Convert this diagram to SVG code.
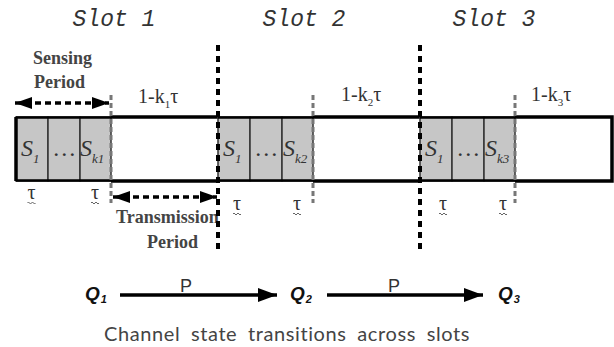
<svg xmlns="http://www.w3.org/2000/svg" width="614" height="347" viewBox="0 0 614 347">
  <style>
    .slot { font-family: "Liberation Mono", monospace; font-style: italic; font-size: 23px; fill: #333; text-anchor: middle; }
    .lbl { font-family: "Liberation Serif", serif; font-weight: bold; font-size: 18px; fill: #444; }
    .frac { font-family: "Liberation Serif", serif; font-size: 20px; fill: #333; }
    .sub { font-size: 11px; }
    .cellS { font-family: "Liberation Serif", serif; font-style: italic; font-size: 24px; fill: #333; }
    .csub { font-size: 13px; }
    .tau { font-family: "Liberation Serif", serif; font-size: 20px; fill: #333; text-anchor: middle; }
    .q { font-family: "Liberation Sans", sans-serif; font-weight: bold; font-style: italic; font-size: 19px; fill: #111; }
    .p { font-family: "Liberation Sans", sans-serif; font-size: 18px; fill: #333; }
    .cap { font-family: "Lato", sans-serif; font-size: 20px; fill: #444; text-anchor: middle; letter-spacing: 0.6px; word-spacing: 5px; }
    .cell { fill: #c6c6c6; stroke: #333; stroke-width: 1.5; }
    .edge { stroke: #000; stroke-width: 3.5; fill: none; }
    .slotsep { stroke: #000; stroke-width: 4; stroke-dasharray: 6 5; fill: none; }
    .sensesep { stroke: #777; stroke-width: 3; stroke-dasharray: 5 3; fill: none; }
    .period { stroke: #000; stroke-width: 3.5; stroke-dasharray: 6 4; fill: none; }
    .trans { stroke: #000; stroke-width: 3.5; fill: none; }
    .squig { stroke: #555; stroke-width: 0.9; fill: none; }
  </style>
  <defs>
    <marker id="head" markerUnits="userSpaceOnUse" markerWidth="17" markerHeight="12" viewBox="0 0 17 12" refX="17" refY="6" orient="auto-start-reverse">
      <path d="M0,0 L17,6 L0,12 z" fill="#000"/>
    </marker>
    <marker id="headSolid" markerUnits="userSpaceOnUse" markerWidth="19" markerHeight="14" viewBox="0 0 19 14" refX="19" refY="7" orient="auto">
      <path d="M0,0 L19,7 L0,14 z" fill="#000"/>
    </marker>
    <path id="tilde" d="M-4,0 q1,-2 2,0 t2,0 t2,0 t2,0"/>
  </defs>

  <!-- slot headings -->
  <g id="slot-headings">
    <text class="slot" x="114" y="26">Slot 1</text>
    <text class="slot" x="304" y="26">Slot 2</text>
    <text class="slot" x="494" y="26">Slot 3</text>
  </g>

  <!-- time bar: sensing cells and transmission segments -->
  <g id="slot1">
    <rect class="cell" x="16" y="117" width="32" height="64"/>
    <rect class="cell" x="48" y="117" width="32" height="64"/>
    <rect class="cell" x="80" y="117" width="31" height="64"/>
    <path class="edge" d="M16,117 V181"/>
    <path class="edge" d="M16,117.5 H111 M16,180.5 H111" style="stroke-width:2.5"/>
    <path class="edge" d="M111,117 H218 M111,181 H218"/>
    <text class="cellS" x="21" y="156">S<tspan class="csub" dx="0" dy="7">1</tspan></text>
    <text class="cellS" x="54" y="156">…</text>
    <text class="cellS" x="80" y="156">S<tspan class="csub" dx="0" dy="7">k1</tspan></text>
  </g>
  <g id="slot2">
    <rect class="cell" x="218" y="117" width="32" height="64"/>
    <rect class="cell" x="250" y="117" width="32" height="64"/>
    <rect class="cell" x="282" y="117" width="31" height="64"/>
    <path class="edge" d="M218,117.5 H313 M218,180.5 H313" style="stroke-width:2.5"/>
    <path class="edge" d="M313,117 H420 M313,181 H420"/>
    <text class="cellS" x="223" y="156">S<tspan class="csub" dx="0" dy="7">1</tspan></text>
    <text class="cellS" x="256" y="156">…</text>
    <text class="cellS" x="283" y="156">S<tspan class="csub" dx="0" dy="7">k2</tspan></text>
  </g>
  <g id="slot3">
    <rect class="cell" x="420" y="117" width="32" height="64"/>
    <rect class="cell" x="452" y="117" width="32" height="64"/>
    <rect class="cell" x="484" y="117" width="31" height="64"/>
    <path class="edge" d="M420,117.5 H515 M420,180.5 H515" style="stroke-width:2.5"/>
    <path class="edge" d="M515,117 H612 V181 H515"/>
    <text class="cellS" x="425" y="156">S<tspan class="csub" dx="0" dy="7">1</tspan></text>
    <text class="cellS" x="458" y="156">…</text>
    <text class="cellS" x="485" y="156">S<tspan class="csub" dx="0" dy="7">k3</tspan></text>
  </g>

  <!-- transmission durations -->
  <g id="durations">
    <text class="frac" x="138" y="103">1-k<tspan class="sub" dy="5">1</tspan><tspan dy="-5">τ</tspan></text>
    <text class="frac" x="341" y="101">1-k<tspan class="sub" dy="5">2</tspan><tspan dy="-5">τ</tspan></text>
    <text class="frac" x="531" y="101">1-k<tspan class="sub" dy="5">3</tspan><tspan dy="-5">τ</tspan></text>
  </g>

  <!-- per-cell sensing time -->
  <g id="taus">
    <text class="tau" x="31.5" y="199">τ</text><use href="#tilde" class="squig" x="31.5" y="203"/>
    <text class="tau" x="95" y="199">τ</text><use href="#tilde" class="squig" x="95" y="203"/>
    <text class="tau" x="237" y="210">τ</text><use href="#tilde" class="squig" x="237" y="214"/>
    <text class="tau" x="297" y="210">τ</text><use href="#tilde" class="squig" x="297" y="214"/>
    <text class="tau" x="443" y="210">τ</text><use href="#tilde" class="squig" x="443" y="214"/>
    <text class="tau" x="503" y="210">τ</text><use href="#tilde" class="squig" x="503" y="214"/>
  </g>

  <!-- period labels -->
  <g id="sensing-period">
    <text class="lbl" x="33" y="64">Sensing</text>
    <text class="lbl" x="34" y="88">Period</text>
  </g>
  <g id="transmission-period">
    <text class="lbl" x="116" y="223">Transmission</text>
    <text class="lbl" x="147" y="248">Period</text>
  </g>

  <!-- state nodes -->
  <g id="Q1"><text class="q" x="85" y="300">Q<tspan class="sub" dx="1" dy="3">1</tspan></text></g>
  <g id="Q2"><text class="q" x="290" y="300">Q<tspan class="sub" dx="1" dy="3">2</tspan></text></g>
  <g id="Q3"><text class="q" x="498" y="300">Q<tspan class="sub" dx="1" dy="3">3</tspan></text></g>

  <!-- connectors: boundaries, period arrows and transitions -->
  <g id="connectors">
    <path class="slotsep" d="M218,45 V251"/>
    <path class="slotsep" d="M420,45 V251"/>
    <path class="sensesep" d="M111,95 V203"/>
    <path class="sensesep" d="M313,95 V203"/>
    <path class="sensesep" d="M515,95 V203"/>
    <path class="period" d="M15,103 H109" marker-start="url(#head)" marker-end="url(#head)"/>
    <path class="period" d="M113,197 H217" marker-start="url(#head)" marker-end="url(#head)"/>
    <path class="trans" d="M120,295 H277" marker-end="url(#headSolid)"/>
    <path class="trans" d="M327,295 H483" marker-end="url(#headSolid)"/>
    <text class="p" x="180" y="292">P</text>
    <text class="p" x="388" y="292">P</text>
  </g>

  <text class="cap" x="287" y="341">Channel state transitions across slots</text>
</svg>
